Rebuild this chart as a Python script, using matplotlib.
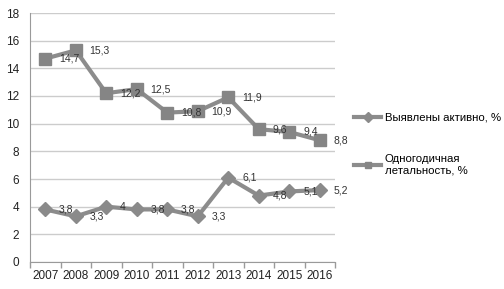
import matplotlib
matplotlib.use('Agg')
import matplotlib.pyplot as plt
from matplotlib.lines import Line2D

years = ['2007', '2008', '2009', '2010', '2011', '2012', '2013', '2014', '2015', '2016']
active = [3.8, 3.3, 4, 3.8, 3.8, 3.3, 6.1, 4.8, 5.1, 5.2]
lethality = [14.7, 15.3, 12.2, 12.5, 10.8, 10.9, 11.9, 9.6, 9.4, 8.8]
name_active = 'Выявлены активно, %'
name_lethality = 'Одногодичная\nлетальность, %'

plt.rcParams['font.family'] = ['Liberation Sans', 'DejaVu Sans']

fig = plt.figure(figsize=(5.04, 2.89), dpi=100)
ax = fig.add_axes([30 / 504, 27 / 289, 305 / 504, 249 / 289])

line_col = '#8c8c8c'
x = list(range(len(years)))

ax.plot(x, lethality, color=line_col, lw=3, marker='s', ms=8,
        mfc='#858585', mec='#858585', zorder=3)
ax.plot(x, active, color=line_col, lw=3, marker='D', ms=7,
        mfc='#8a8a8a', mec='#8a8a8a', zorder=3)

def fmt(v):
    s = ('%g' % v).replace('.', ',')
    return s

for xi, v in zip(x, lethality):
    ax.annotate(fmt(v), (xi, v), xytext=(10, 0), textcoords='offset points',
                ha='left', va='center', fontsize=7.5, color='#333333', zorder=4)
for xi, v in zip(x, active):
    ax.annotate(fmt(v), (xi, v), xytext=(10, 0), textcoords='offset points',
                ha='left', va='center', fontsize=7.5, color='#333333', zorder=4)

ax.set_xlim(-0.5, len(years) - 0.5)
ax.set_ylim(0, 18)
ax.set_yticks(range(0, 19, 2))
ax.set_xticks(x)
ax.set_xticklabels(years)
ax.set_xticks([i - 0.5 for i in range(len(years) + 1)], minor=True)
ax.tick_params(axis='x', which='major', length=0, labelsize=8.5, pad=6, colors='#222222')
ax.tick_params(axis='x', which='minor', length=4, color='#9a9a9a', width=1)
ax.tick_params(axis='y', length=0, labelsize=8.5, pad=8, colors='#222222')

ax.grid(axis='y', color='#cccccc', lw=1)
ax.set_axisbelow(True)
for s in ['top', 'right']:
    ax.spines[s].set_visible(False)
ax.spines['left'].set_color('#9a9a9a')
ax.spines['bottom'].set_color('#9a9a9a')

handles = [
    Line2D([], [], color=line_col, lw=3, marker='D', ms=5, mfc='#8a8a8a', mec='#8a8a8a'),
    Line2D([], [], color=line_col, lw=3, marker='s', ms=5, mfc='#858585', mec='#858585'),
]
fig.legend(handles, [name_active, name_lethality], loc='upper left',
           bbox_to_anchor=(354 / 504, 1 - 113 / 289), frameon=False,
           borderpad=0, borderaxespad=0,
           fontsize=8.2, handlelength=2.4, handletextpad=0.3, labelspacing=2.7)

fig.savefig('out.png', dpi=100)
